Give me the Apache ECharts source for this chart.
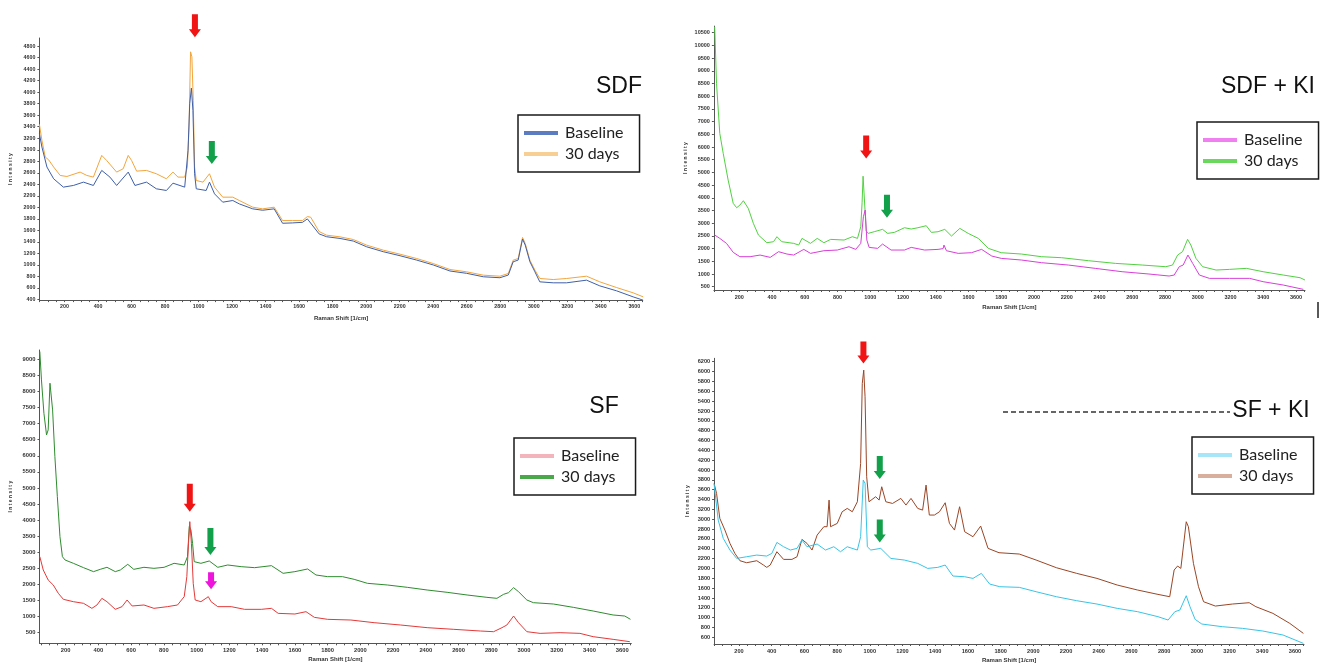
<!DOCTYPE html>
<html><head><meta charset="utf-8">
<script src="https://cdn.jsdelivr.net/npm/echarts@6/dist/echarts.min.js"></script>
<style>html,body{margin:0;padding:0;background:#fff;}#c{width:1325px;height:664px;}</style>
</head><body><div id="c"></div>
<script>
// ---------- DATA ----------
const xTickLabels = [200,400,600,800,1000,1200,1400,1600,1800,2000,2200,2400,2600,2800,3000,3200,3400,3600];
const sdfYLabels = [400,600,800,1000,1200,1400,1600,1800,2000,2200,2400,2600,2800,3000,3200,3400,3600,3800,4000,4200,4400,4600,4800];
const sdfkiYLabels = [500,1000,1500,2000,2500,3000,3500,4000,4500,5000,5500,6000,6500,7000,7500,8000,8500,9000,9500,10000,10500];
const sfYLabels = [500,1000,1500,2000,2500,3000,3500,4000,4500,5000,5500,6000,6500,7000,7500,8000,8500,9000];
const sfkiYLabels = [600,800,1000,1200,1400,1600,1800,2000,2200,2400,2600,2800,3000,3200,3400,3600,3800,4000,4200,4400,4600,4800,5000,5200,5400,5600,5800,6000,6200];

// SDF
const sdfBaseShift = [50,65,95,135,193,253,313,372,422,471,511,580,620,689,748,808,847,917,937,947,957,966,976,986,1045,1065,1095,1144,1204,1243,1323,1382,1451,1501,1560,1620,1649,1719,1764,1844,1923,2003,2102,2202,2301,2400,2500,2599,2699,2798,2848,2877,2907,2933,2949,2977,3007,3036,3116,3196,3315,3394,3494,3593,3653];
const sdfBase = [3279,3047,2700,2496,2351,2380,2438,2380,2641,2525,2380,2612,2380,2438,2322,2293,2420,2351,2989,3800,4070,3685,2583,2322,2293,2438,2235,2090,2119,2060,1974,1950,1974,1724,1730,1740,1800,1539,1490,1460,1415,1315,1230,1160,1085,1000,895,855,795,778,825,1055,1085,1450,1345,1055,880,707,690,690,736,637,551,446,388];
const sdf30Shift = [50,65,85,105,135,174,214,293,333,372,422,451,511,550,580,600,630,689,748,808,847,877,917,933,943,952,960,968,976,986,1026,1065,1095,1144,1204,1243,1323,1382,1451,1501,1560,1620,1649,1669,1719,1764,1844,1923,2003,2102,2202,2301,2400,2500,2599,2699,2798,2848,2877,2907,2933,2949,2977,3007,3036,3116,3196,3315,3394,3494,3593,3653];
const sdf30 = [3441,3163,2873,2826,2700,2554,2536,2612,2554,2525,2902,2815,2612,2670,2902,2815,2629,2641,2583,2496,2612,2525,2525,2700,3395,4700,4613,3859,2700,2467,2438,2583,2351,2177,2177,2119,2003,1974,2003,1771,1771,1771,1840,1829,1580,1517,1488,1442,1344,1257,1187,1112,1025,921,881,823,805,852,1083,1112,1477,1373,1083,910,765,747,765,805,707,608,516,446];

// SDF + KI
const sdfkiBaseShift = [50,81,122,163,204,266,327,389,440,491,532,594,635,717,799,870,911,942,958,969,979,993,1045,1075,1127,1209,1250,1332,1414,1445,1450,1465,1537,1618,1680,1742,1800,1923,2046,2210,2374,2538,2702,2825,2856,2887,2911,2940,2969,3010,3071,3194,3317,3399,3522,3645];
const sdfkiBase = [2534,2402,2206,1851,1681,1681,1746,1655,1878,1786,1746,1969,1812,1917,1943,2074,1969,2206,3255,3518,2337,2048,2009,2179,1943,1943,2048,1943,1969,2000,2140,1917,1812,1838,1969,1707,1615,1550,1445,1353,1222,1090,999,920,959,1287,1353,1746,1418,959,828,828,828,697,566,395];
const sdfki30Shift = [50,61,81,102,132,163,184,204,225,255,286,317,368,409,430,460,532,563,583,635,676,717,758,840,891,922,942,950,956,962,968,975,987,1024,1075,1106,1147,1209,1250,1291,1342,1373,1414,1455,1496,1547,1598,1660,1721,1800,1923,2046,2169,2333,2497,2661,2805,2846,2877,2907,2938,2958,2989,3030,3112,3194,3297,3399,3522,3625,3655];
const sdfki30 = [10734,8503,6535,5748,4698,3780,3609,3714,3885,3583,2993,2534,2232,2271,2468,2271,2206,2140,2402,2206,2402,2232,2363,2337,2468,2402,2862,3800,4850,4800,3500,2700,2599,2665,2757,2599,2638,2822,2770,2822,2901,2638,2665,2757,2494,2796,2599,2402,2009,1838,1786,1681,1641,1523,1418,1353,1287,1353,1746,1878,2363,2140,1615,1287,1156,1182,1222,1090,959,854,762];

// SF
const sfBaseShift = [42,63,93,124,155,186,247,309,360,391,421,452,503,544,575,606,678,739,821,883,924,940,950,958,968,979,991,1026,1057,1071,1088,1129,1211,1293,1395,1457,1498,1600,1668,1719,1800,1942,2084,2246,2408,2571,2733,2814,2865,2895,2936,2966,3017,3098,3220,3341,3422,3544,3646];
const sfBase = [2864,2450,2138,1983,1724,1537,1464,1413,1257,1361,1568,1464,1226,1309,1516,1330,1361,1257,1309,1361,1620,2242,3279,3953,3279,2035,1516,1464,1568,1620,1464,1309,1309,1226,1226,1257,1101,1081,1153,977,915,894,811,739,656,604,552,531,656,739,1018,811,531,479,500,479,376,293,220];
const sf30Shift = [42,52,67,83,93,104,110,120,134,149,165,180,196,247,309,370,411,452,503,534,579,616,678,739,801,862,924,944,955,965,975,985,1026,1077,1129,1190,1272,1354,1457,1528,1600,1678,1729,1800,1891,1962,2043,2165,2287,2408,2530,2652,2773,2834,2875,2905,2936,2966,3017,3057,3179,3301,3422,3544,3615,3650];
const sf30 = [9242,8360,7323,6649,6805,8257,8277,7427,5975,4731,3487,2864,2761,2657,2522,2398,2470,2533,2398,2450,2626,2470,2533,2501,2533,2657,2605,2864,3798,3694,3279,2709,2657,2730,2533,2605,2553,2522,2584,2346,2398,2481,2294,2242,2242,2159,2035,1983,1910,1827,1755,1672,1599,1568,1693,1744,1900,1775,1516,1433,1392,1288,1174,1050,1018,915];

// SF + KI
const sfkiBaseShift = [48,73,104,145,186,247,309,370,401,432,473,514,555,585,616,678,729,780,821,862,924,944,960,971,985,1006,1067,1129,1211,1293,1354,1416,1461,1508,1580,1631,1682,1733,1795,1914,2017,2141,2265,2389,2513,2638,2762,2824,2865,2896,2935,2958,2989,3030,3155,3279,3403,3527,3651];
const sfkiBase = [3714,2983,2611,2374,2204,2238,2272,2252,2306,2529,2441,2374,2408,2577,2441,2496,2374,2441,2340,2441,2374,2645,3795,3728,2441,2374,2408,2204,2171,2103,2001,2022,2069,1846,1832,1798,1900,1683,1629,1616,1527,1426,1345,1277,1189,1121,1020,952,1121,1155,1446,1223,966,871,817,783,729,647,478];
const sfki30Shift = [48,63,83,114,145,175,206,247,309,350,370,391,432,473,524,555,585,616,647,678,719,739,751,760,801,831,862,893,924,944,954,963,971,981,995,1036,1057,1073,1098,1139,1190,1221,1252,1293,1323,1344,1364,1395,1426,1461,1487,1518,1549,1580,1631,1678,1723,1790,1914,2017,2141,2265,2389,2513,2638,2762,2834,2861,2882,2902,2935,2948,2979,3010,3041,3113,3217,3320,3361,3465,3568,3651];
const sfki30 = [3728,3525,3017,2780,2509,2306,2157,2116,2157,2069,2022,2069,2340,2184,2184,2238,2590,2509,2374,2678,2848,2848,3389,2848,2915,3152,3220,3152,3355,4134,5759,6030,5488,3863,3355,3457,3389,3660,3355,3321,3423,3288,3423,3220,3186,3694,3085,3085,3152,3335,2915,2780,3254,2746,2645,2861,2408,2320,2293,2171,2015,1900,1798,1663,1561,1473,1426,1968,2049,2001,2949,2848,2103,1629,1324,1236,1277,1304,1223,1087,884,681];

// Arrow annotations (panel, shift, intensity at arrow tip)
const arrowPanel = [0,0,1,1,2,2,2,3,3,3];
const arrowShift = [978,1079,975,1102,958,1084,1088,961,1061,1061];
const arrowIntensity = [4951,2751,5551,3216,4264,2916,1848,6165,3816,2529];

// ---------- LAYOUT / STYLE ----------
const panels = [
  {title:'SDF', grid:{left:39.4,top:38,width:603.3,height:262.1}, xr:[50,3650], yr:[390,4940], yl:sdfYLabels, fs:5.3,
   titlePos:[619,87], legend:{left:518,top:115},
   series:[{name:'30 days',x:sdf30Shift,y:sdf30,c:'#f2a53c',lc:'#f7cf95'},{name:'Baseline',x:sdfBaseShift,y:sdfBase,c:'#3f5fa8',lc:'#5b7cc0'}],
   order:['Baseline','30 days'], nameGapY:26, nameGapX:15},
  {title:'SDF + KI', grid:{left:713.9,top:26.1,width:591.1,height:263.9}, xr:[45,3655], yr:[370,10760], yl:sdfkiYLabels, fs:5.5,
   titlePos:[1268,87], legend:{left:1197,top:122},
   series:[{name:'30 days',x:sdfki30Shift,y:sdfki30,c:'#52d042',lc:'#6ad85c'},{name:'Baseline',x:sdfkiBaseShift,y:sdfkiBase,c:'#d83fd8',lc:'#f07ff0'}],
   order:['Baseline','30 days'], nameGapY:26, nameGapX:14},
  {title:'SF', grid:{left:39.5,top:350,width:591.8,height:293.3}, xr:[40,3655], yr:[170,9290], yl:sfYLabels, fs:5.8,
   titlePos:[604,407], legend:{left:514,top:438},
   series:[{name:'30 days',x:sf30Shift,y:sf30,c:'#2f8b2f',lc:'#4aa84a'},{name:'Baseline',x:sfBaseShift,y:sfBase,c:'#e23a3a',lc:'#f3b4bc'}],
   order:['Baseline','30 days'], nameGapY:26, nameGapX:13},
  {title:'SF + KI', grid:{left:714.1,top:358.3,width:589.9,height:285.7}, xr:[48,3655], yr:[465,6270], yl:sfkiYLabels, fs:5.6,
   titlePos:[1271,411], legend:{left:1192,top:437},
   series:[{name:'30 days',x:sfki30Shift,y:sfki30,c:'#9a4626',lc:'#d8ae9c'},{name:'Baseline',x:sfkiBaseShift,y:sfkiBase,c:'#38c4e6',lc:'#a6e6f8'}],
   order:['Baseline','30 days'], nameGapY:24, nameGapX:13}
];
const arrowColors = ['#f01414','#12a04a','#f01414','#12a04a','#f01414','#12a04a','#ee14dc','#f01414','#12a04a','#12a04a'];
const arrowLen = [23,23,23,23,28,27,17,22,23,23];

const xTicks = [];
for (let v = 50; v <= 3650; v += 50) xTicks.push(v);

const chart = echarts.init(document.getElementById('c'), null, {renderer:'canvas'});
const axisCol = '#555';
const labelFont = 'Liberation Sans';
const plain = v => String(Math.round(v));

const option = {animation:false, backgroundColor:'#fff', grid:[], xAxis:[], yAxis:[], series:[], legend:[]};
panels.forEach((p, i) => {
  option.grid.push(Object.assign({containLabel:false}, p.grid));
  option.xAxis.push({type:'value', gridIndex:i, min:p.xr[0], max:p.xr[1],
    name:'Raman Shift [1/cm]', nameLocation:'middle', nameGap:p.nameGapX,
    nameTextStyle:{fontSize:6, fontFamily:labelFont, fontWeight:'bold', color:'#333'},
    axisLine:{lineStyle:{color:axisCol,width:1}},
    axisTick:{length:2, customValues:xTicks, lineStyle:{color:axisCol}},
    axisLabel:{customValues:xTickLabels, formatter:plain, fontSize:p.fs, fontFamily:labelFont, fontWeight:'bold', color:'#333', margin:4},
    splitLine:{show:false}});
  option.yAxis.push({type:'value', gridIndex:i, min:p.yr[0], max:p.yr[1],
    name:'I n t e n s i t y', nameLocation:'middle', nameGap:p.nameGapY, nameRotate:90,
    nameTextStyle:{fontSize:5, fontFamily:labelFont, fontWeight:'bold', color:'#333'},
    axisLine:{show:true, lineStyle:{color:axisCol,width:1}},
    axisTick:{show:true, length:2, customValues:p.yl, lineStyle:{color:axisCol}},
    axisLabel:{customValues:p.yl, formatter:plain, fontSize:p.fs, fontFamily:labelFont, fontWeight:'bold', color:'#333', margin:4},
    splitLine:{show:false}});
  p.series.forEach(s => {
    option.series.push({type:'line', name:s.name, xAxisIndex:i, yAxisIndex:i, showSymbol:false, symbol:'none',
      clip:true, lineStyle:{color:s.c, width:1}, itemStyle:{color:s.c},
      data:s.x.map((v, k) => [v, s.y[k]])});
  });
  const colorOf = {}; p.series.forEach(s => colorOf[s.name] = s.lc);
  option.legend.push({orient:'vertical', left:p.legend.left, top:p.legend.top,
    borderColor:'#1a1a1a', borderWidth:1.5, padding:[9,16,9,6], itemGap:3,
    itemWidth:34, itemHeight:4, icon:'rect', selectedMode:false,
    textStyle:{fontFamily:'Lato', fontSize:16, color:'#222', lineHeight:18, padding:[0,0,0,2]},
    data:p.order.map(n => ({name:n, icon:'rect', itemStyle:{color:colorOf[n], borderWidth:0}}))});
});
chart.setOption(option);

// graphics: titles, arrows
const elements = [];
// partly hidden line of text behind the "SF + KI" title
elements.push({type:'line', silent:true, shape:{x1:1003,y1:412,x2:1230,y2:412}, style:{stroke:'#666', lineWidth:2, lineDash:[5,3]}});
panels.forEach(p => {
  elements.push({type:'text', x:p.titlePos[0], y:p.titlePos[1], silent:true,
    style:{text:p.title, fill:'#111', font:'23px "Liberation Sans"', textAlign:'center', textVerticalAlign:'middle',
      backgroundColor: p.title === 'SF + KI' ? '#fff' : 'transparent'}});
});
arrowShift.forEach((sx, k) => {
  const pt = chart.convertToPixel({gridIndex:arrowPanel[k]}, [sx, arrowIntensity[k]]);
  const h = arrowLen[k], hh = 8, hw = 6, sw = 3;
  const x = pt[0], y = pt[1];
  elements.push({type:'polygon', silent:true,
    shape:{points:[[x-sw,y-h],[x+sw,y-h],[x+sw,y-hh],[x+hw,y-hh],[x,y],[x-hw,y-hh],[x-sw,y-hh]]},
    style:{fill:arrowColors[k]}});
});
elements.push({type:'line', silent:true, shape:{x1:1318,y1:302,x2:1318,y2:318}, style:{stroke:'#222', lineWidth:1.5}});
chart.setOption({graphic:{elements:elements}});
</script>
</body></html>
